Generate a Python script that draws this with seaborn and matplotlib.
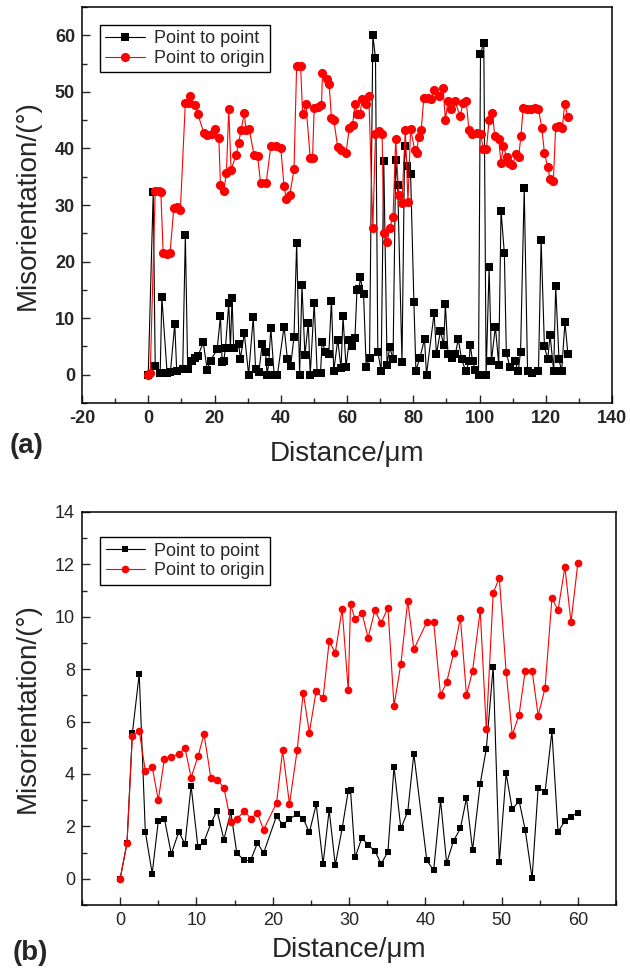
import matplotlib
matplotlib.use("Agg")
import matplotlib.pyplot as plt
import seaborn as sns
from matplotlib.ticker import AutoMinorLocator, MultipleLocator

# panel (a): long line scan, ~1 um steps
a_dist_p2p = [0, 1.5, 2.1, 3.6, 4.1, 5.7, 6.7, 8.0, 8.6, 10.4, 11.2, 11.9, 13.2, 14.2, 15.0,
              16.6, 17.8, 18.8, 20.8, 21.8, 22.3, 22.8, 23.3, 24.3, 24.8, 25.3, 25.8, 27.3,
              27.8, 29.0, 30.3, 31.7, 32.4, 33.4, 34.4, 35.4, 35.9, 36.4, 37.0, 38.0, 39.0,
              41.0, 42.0, 43.0, 44.0, 44.8, 45.7, 46.4, 47.3, 48.3, 48.9, 50.1, 51.0, 52.0,
              52.5, 53.5, 54.5, 55.3, 56.0, 57.2, 58.2, 58.8, 59.7, 60.7, 61.4, 62.4, 63.0,
              63.7, 64.0, 65.0, 65.8, 66.8, 67.8, 68.6, 69.3, 70.3, 71.1, 72.1, 72.9, 73.9,
              74.7, 75.3, 76.6, 77.4, 78.2, 79.2, 80.2, 80.8, 82.0, 83.4, 84.0, 86.3, 87.0,
              88.2, 89.2, 89.7, 90.5, 91.6, 92.7, 93.6, 94.6, 95.9, 96.9, 97.2, 97.9, 98.7,
              99.7, 100.3, 101.3, 102.0, 102.9, 103.6, 104.8, 105.8, 106.5, 107.5, 108.1,
              109.2, 110.7, 111.7, 112.4, 113.5, 114.5, 115.7, 117.8, 118.6, 119.6, 120.6,
              121.3, 122.4, 123.0, 124.0, 124.8, 125.8, 126.7]
a_p2p = [0, 32.3, 1.6, 0.3, 13.7, 0.3, 0.5, 9.0, 0.6, 1.0, 24.7, 1.0, 2.5, 3.0, 3.3,
         5.7, 0.9, 2.5, 4.5, 10.3, 2.3, 2.4, 4.7, 12.6, 4.7, 13.5, 4.7, 5.5,
         2.8, 7.3, 0.0, 10.2, 1.0, 0.4, 5.5, 4.0, 0.0, 2.3, 8.3, 0.0, 0.0,
         8.5, 2.8, 1.6, 6.7, 23.3, 0.0, 15.8, 3.4, 9.2, 0.0, 12.7, 0.3, 0.3,
         5.8, 4.1, 3.6, 13.1, 0.6, 6.2, 1.1, 10.3, 1.4, 6.2, 5.0, 6.5, 14.9,
         15.2, 17.2, 14.2, 1.3, 3.0, 60.0, 56.0, 4.1, 0.7, 37.7, 1.8, 4.9, 2.7,
         37.9, 33.6, 2.2, 40.4, 36.9, 35.4, 12.8, 0.7, 3.0, 6.3, 0.0, 10.9, 3.6,
         7.7, 5.3, 12.5, 3.6, 3.0, 3.6, 6.3, 2.7, 0.6, 2.4, 5.3, 2.4, 0.9,
         0.0, 56.7, 58.7, 0.0, 19.0, 2.4, 8.5, 1.8, 29.0, 21.5, 3.9,
         1.3, 2.4, 0.6, 4.1, 33.0, 0.6, 0.3, 0.6, 23.9, 5.0, 2.7,
         7.1, 0.6, 15.7, 2.7, 0.6, 9.3, 3.6]

a_dist_p2o = [0, 0.6, 2.1, 3.1, 3.8, 4.5, 5.6, 6.6, 7.7, 8.7,
              9.7, 11.2, 12.2, 12.7, 14.0, 15.0, 16.8, 17.8, 19.3, 20.3,
              21.3, 21.8, 22.8, 23.6, 24.3, 25.0, 26.5, 27.3, 28.0, 29.0,
              29.5, 30.5, 31.9, 33.0, 33.9, 35.6, 37.0, 38.5, 40.0, 41.0,
              41.7, 42.7, 44.0, 44.8, 46.0, 46.6, 47.6, 48.9, 49.6, 50.1,
              51.3, 52.3, 52.6, 53.9, 54.6, 55.3, 56.0, 57.2, 58.2, 59.7,
              60.7, 61.7, 62.4, 63.1, 63.9, 64.6, 65.6, 66.6, 67.8, 68.6,
              69.6, 70.6, 71.1, 72.1, 72.9, 73.9, 74.7, 75.6, 76.6, 77.6,
              78.4, 79.2, 80.4, 81.0, 81.6, 82.4, 83.2, 84.5, 85.5, 86.3,
              87.9, 89.0, 89.7, 90.5, 91.5, 92.5, 94.2, 95.0, 96.0, 96.8,
              97.6, 99.1, 100.4, 101.1, 102.1, 102.9, 103.9, 104.6, 105.8, 106.5,
              107.2, 108.2, 108.9, 109.9, 111.0, 111.8, 112.5, 113.2, 114.4, 115.5,
              116.7, 117.8, 118.8, 119.6, 120.6, 121.3, 122.3, 123.0, 124.0, 125.0,
              125.7, 126.7]
a_p2o = [0, 0.3, 32.4, 32.4, 32.3, 21.5, 21.3, 21.6, 29.4, 29.6,
         29.2, 48.1, 48.1, 49.3, 47.6, 46.0, 42.7, 42.4, 42.6, 43.4,
         41.9, 33.6, 32.4, 35.7, 46.9, 36.2, 38.8, 41.0, 43.2, 46.2,
         43.3, 43.4, 38.9, 38.7, 33.9, 33.9, 40.4, 40.4, 40.1, 33.3,
         31.0, 31.7, 36.3, 54.6, 54.6, 46.0, 47.8, 38.3, 38.3, 47.2,
         47.4, 47.7, 53.4, 52.2, 51.4, 45.4, 45.1, 40.2, 39.8, 39.2,
         43.6, 44.2, 47.8, 46.0, 46.0, 48.7, 47.8, 49.2, 26.0, 42.5,
         43.0, 42.5, 25.1, 23.5, 26.0, 27.9, 41.7, 31.8, 30.4, 43.3,
         30.6, 43.5, 39.8, 39.2, 42.0, 43.3, 49.0, 49.0, 48.8, 50.3,
         49.2, 50.7, 45.1, 48.4, 46.9, 48.4, 45.7, 48.1, 48.4, 43.3,
         42.5, 42.8, 42.5, 39.9, 39.9, 45.1, 46.3, 42.2, 41.7, 37.4,
         40.5, 38.4, 37.4, 37.0, 39.0, 38.4, 42.2, 47.2, 46.9, 47.0,
         47.2, 47.0, 43.6, 39.2, 36.7, 34.6, 34.3, 43.8, 44.0, 43.6,
         47.8, 45.6]

# panel (b): short line scan
b_dist = [0, 0.9, 1.6, 2.5, 3.3, 4.2, 5.0, 5.8, 6.7, 7.7,
          8.5, 9.3, 10.2, 11.0, 11.9, 12.7, 13.6, 14.5, 15.3, 16.3,
          17.1, 18.0, 18.8, 20.5, 21.3, 22.2, 23.2, 24.0, 24.8, 25.7,
          26.6, 27.4, 28.2, 29.1, 29.9, 30.2, 30.8, 31.7, 32.5, 33.4,
          34.2, 35.1, 35.9, 36.8, 37.7, 38.5, 40.2, 41.1, 42.0, 42.8,
          43.7, 44.6, 45.4, 46.2, 47.2, 48.0, 48.9, 49.7, 50.6, 51.4,
          52.3, 53.1, 54.0, 54.8, 55.7, 56.6, 57.4, 58.3, 59.1, 60.0]
b_p2p = [0, 1.37, 5.55, 7.82, 1.8, 0.2, 2.2, 2.3, 0.95, 1.8,
         1.32, 3.55, 1.2, 1.42, 2.12, 2.6, 1.5, 2.55, 0.98, 0.7,
         0.7, 1.37, 0.98, 2.4, 2.06, 2.28, 2.47, 2.3, 1.77, 2.84,
         0.57, 2.63, 0.52, 1.92, 3.35, 3.4, 0.82, 1.57, 1.28, 1.07,
         0.57, 1.02, 4.27, 1.92, 2.56, 4.77, 0.7, 0.33, 3.0, 0.6,
         1.45, 1.92, 3.08, 1.1, 3.63, 4.96, 8.1, 0.63, 4.02, 2.65,
         2.97, 1.87, 0.02, 3.48, 3.31, 5.63, 1.8, 2.2, 2.37, 2.53]
b_p2o = [0, 1.37, 5.46, 5.65, 4.12, 4.28, 3.0, 4.59, 4.65, 4.77,
         5.0, 3.86, 4.67, 5.52, 3.83, 3.78, 3.48, 2.18, 2.28, 2.6,
         2.3, 2.5, 1.87, 2.89, 4.9, 2.85, 4.9, 7.1, 5.58, 7.17,
         6.89, 9.06, 8.63, 10.3, 7.2, 10.48, 9.9, 10.15, 9.2, 10.25,
         9.75, 10.35, 6.6, 8.2, 10.6, 8.76, 9.8, 9.8, 7.0, 7.5,
         8.6, 9.97, 7.0, 7.94, 10.25, 5.7, 10.9, 11.5, 7.9, 5.48,
         6.27, 7.94, 7.94, 6.23, 7.28, 10.7, 10.25, 11.9, 9.8, 12.05]

sns.set_style("ticks")
plt.rcParams["font.family"] = ["Liberation Sans", "DejaVu Sans"]
plt.rcParams["axes.unicode_minus"] = False

W, H = 630, 973
fig = plt.figure(figsize=(W / 100, H / 100), dpi=100)
ax1 = fig.add_axes([82 / W, 1 - 403 / H, 530 / W, 396 / H])
ax2 = fig.add_axes([82 / W, 1 - 905 / H, 534 / W, 393 / H])


def draw(ax, x1, y1, x2, y2, ms_sq, ms_ci, xpad):
    sns.lineplot(x=x1, y=y1, ax=ax, sort=False, estimator=None, color="black",
                 lw=0.8, marker="s", markersize=ms_sq, markeredgewidth=0,
                 label="Point to point")
    sns.lineplot(x=x2, y=y2, ax=ax, sort=False, estimator=None, color="red",
                 lw=0.8, marker="o", markersize=ms_ci, markeredgewidth=0,
                 label="Point to origin")
    for s in ax.spines.values():
        s.set_visible(True)
        s.set_linewidth(1.1)
        s.set_color("black")
    ax.xaxis.set_minor_locator(AutoMinorLocator(2))
    ax.yaxis.set_minor_locator(AutoMinorLocator(2))
    ax.tick_params(which="major", direction="in", length=6, width=1, pad=5,
                   top=False, right=False)
    ax.tick_params(which="minor", direction="in", length=3.5, width=1,
                   top=False, right=False)
    ax.set_xlabel("Distance/\u03bcm", fontsize=20, labelpad=xpad)
    ax.set_ylabel("Misorientation/(\u00b0)", fontsize=20, labelpad=10)
    ax.legend(loc="upper left", bbox_to_anchor=(0.034, 0.955 if ax is ax1 else 0.936),
              borderaxespad=0, fontsize=13, handlelength=2.2, handletextpad=0.5,
              labelspacing=0.15, borderpad=0.3, fancybox=False, framealpha=1,
              edgecolor="black")


draw(ax1, a_dist_p2p, a_p2p, a_dist_p2o, a_p2o, 5.8, 6.6, 10)
ax1.set_xlim(-20, 140)
ax1.set_ylim(-5, 65)
ax1.xaxis.set_major_locator(MultipleLocator(20))
ax1.yaxis.set_major_locator(MultipleLocator(10))
for t in ax1.get_xticklabels() + ax1.get_yticklabels():
    t.set_fontsize(13)
    t.set_fontweight("bold")

draw(ax2, b_dist, b_p2p, b_dist, b_p2o, 5.0, 5.5, 6)
ax2.set_xlim(-5, 65)
ax2.set_ylim(-1, 14)
ax2.xaxis.set_major_locator(MultipleLocator(10))
ax2.yaxis.set_major_locator(MultipleLocator(2))
for t in ax2.get_xticklabels() + ax2.get_yticklabels():
    t.set_fontsize(13)

fig.text(27 / W, 1 - 446 / H, "(a)", fontsize=20, fontweight="bold",
         ha="center", va="center")
fig.text(30 / W, 1 - 953 / H, "(b)", fontsize=20, fontweight="bold",
         ha="center", va="center")

fig.savefig("out.png", dpi=100)
